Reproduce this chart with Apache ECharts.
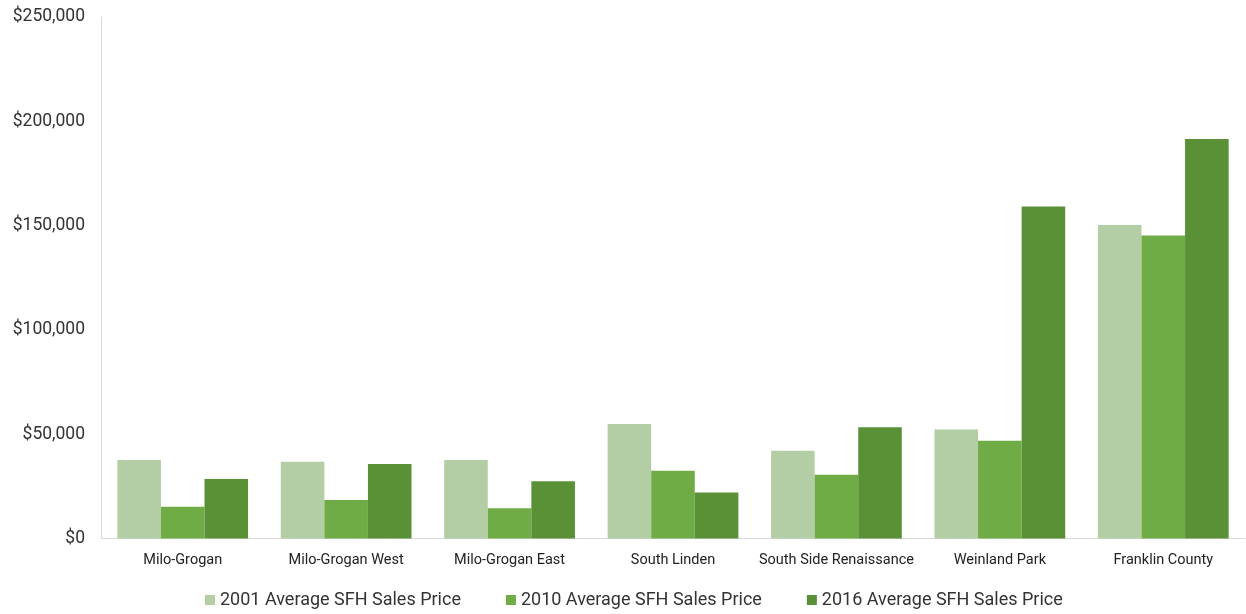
<!DOCTYPE html>
<html><head><meta charset="utf-8">
<script src="https://cdn.jsdelivr.net/npm/echarts@6/dist/echarts.min.js"></script>
<style>html,body{margin:0;padding:0;background:#fff}#c{width:1246px;height:614px}</style>
</head><body><div id="c"></div>
<script>
var categories = ["Milo-Grogan","Milo-Grogan West","Milo-Grogan East","South Linden","South Side Renaissance","Weinland Park","Franklin County"];
var seriesNames = ["2001 Average SFH Sales Price","2010 Average SFH Sales Price","2016 Average SFH Sales Price"];
var s2001 = [37600, 36800, 37600, 54900, 42100, 52300, 150300];
var s2010 = [15200, 18500, 14500, 32500, 30600, 46900, 145200];
var s2016 = [28500, 35700, 27400, 22100, 53300, 159100, 191500];
var colors = ["#b3cea4", "#6fac46", "#5a9136"];

var chart = echarts.init(document.getElementById('c'));
function mk(name, data, i){
  return {name:name, type:'bar', data:data, barGap:'0%', barCategoryGap:'20%',
    itemStyle:{color:colors[i]}};
}
chart.setOption({
  animation:false,
  textStyle:{fontFamily:'Roboto'},
  grid:{left:101, right:1, top:17, bottom:75.5, containLabel:false},
  legend:{bottom:0, left:200, itemWidth:10, itemHeight:10, itemGap:45, icon:'rect',
    textStyle:{fontSize:18, color:'#333', fontFamily:'Roboto'},
    data:seriesNames},
  xAxis:{type:'category', data:categories,
    axisLine:{lineStyle:{color:'#d9d9d9'}}, axisTick:{show:false},
    axisLabel:{fontSize:14.5, color:'#222', margin:14, interval:0}},
  yAxis:{type:'value', min:0, max:250000, interval:50000,
    axisLine:{show:true, lineStyle:{color:'#d9d9d9'}}, splitLine:{show:false},
    axisLabel:{fontSize:17.5, color:'#333', margin:16,
      formatter:function(v){return '$'+v.toLocaleString('en-US');}}},
  series:[mk(seriesNames[0], s2001, 0), mk(seriesNames[1], s2010, 1), mk(seriesNames[2], s2016, 2)]
});
</script></body></html>
